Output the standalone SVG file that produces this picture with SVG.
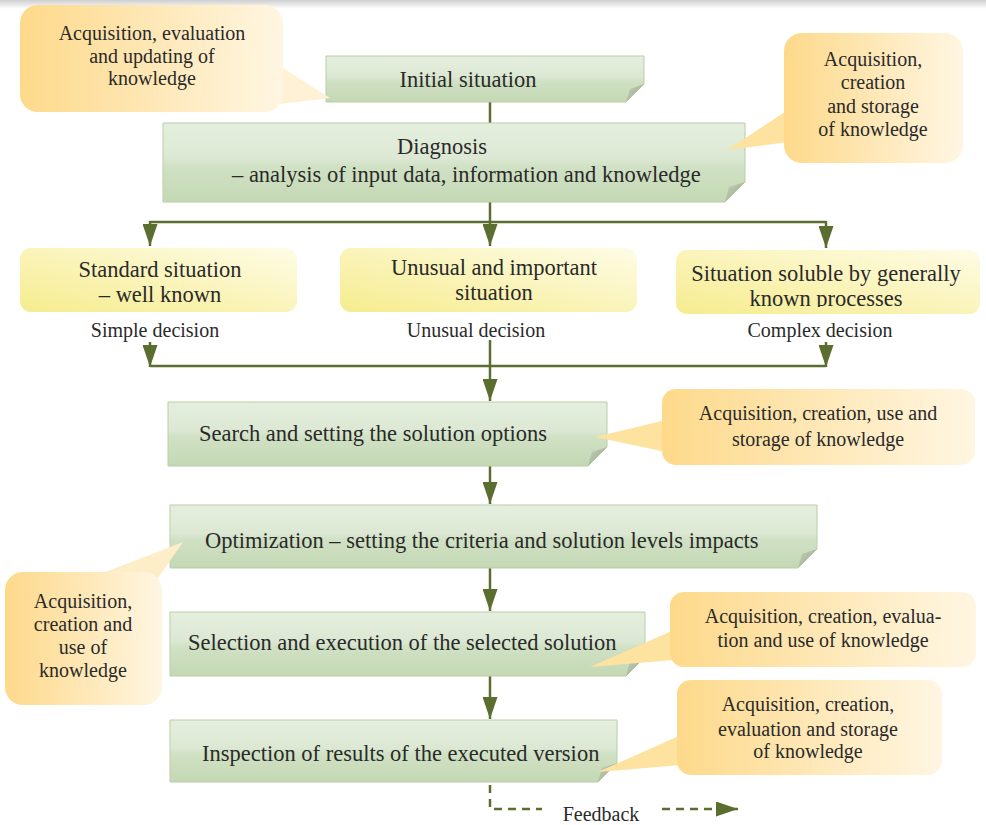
<svg xmlns="http://www.w3.org/2000/svg" width="986" height="825" viewBox="0 0 986 825">
<style>
.t{font-family:"Liberation Serif","Times New Roman",serif;fill:#2a2a2a;text-anchor:middle}
.b{font-size:22.5px}
.c{font-size:20px}
.s{text-anchor:start}
.box{fill:url(#gGreen);stroke:#b9cfa7;stroke-width:1}
.fold{fill:url(#gFold)}
.sit{fill:url(#gYellow)}
.call{fill:url(#gOrange)}
.ln{stroke:#5b6e2f;stroke-width:2.5;fill:none}
.dash{stroke:#5b6e2f;stroke-width:2.5;fill:none;stroke-dasharray:8 6}
</style>
<defs>
<linearGradient id="gTop" x1="0" y1="0" x2="0" y2="1"><stop offset="0" stop-color="#cfcfcf"/><stop offset="1" stop-color="#ffffff"/></linearGradient>
<linearGradient id="gGreen" x1="0" y1="0" x2="0" y2="1"><stop offset="0" stop-color="#e6efdf"/><stop offset="0.45" stop-color="#dce8d3"/><stop offset="0.55" stop-color="#d0e1c4"/><stop offset="1" stop-color="#c4d8b4"/></linearGradient>
<linearGradient id="gFold" x1="0" y1="0" x2="1" y2="1"><stop offset="0" stop-color="#c6d0bc"/><stop offset="1" stop-color="#96a685"/></linearGradient>
<linearGradient id="gYellow" x1="0" y1="1" x2="1" y2="0"><stop offset="0" stop-color="#f6ec8e"/><stop offset="1" stop-color="#fefce6"/></linearGradient>
<linearGradient id="gOrange" x1="0" y1="0" x2="1" y2="0"><stop offset="0" stop-color="#fdd98a"/><stop offset="1" stop-color="#fff6e2"/></linearGradient>
<marker id="ah" markerUnits="userSpaceOnUse" markerWidth="22" markerHeight="15" refX="22" refY="7.5" orient="auto"><path d="M0,0 L22,7.5 L0,15 z" fill="#5b6e2f"/></marker>
<clipPath id="clipSol"><rect x="676" y="250" width="304" height="57"/></clipPath>
</defs>
<rect x="0" y="0" width="986" height="825" fill="#ffffff"/>
<rect x="0" y="0" width="986" height="9" fill="url(#gTop)"/>

<g id="connectors">
<line class="ln" x1="490" y1="102" x2="490" y2="123"/>
<line class="ln" x1="490" y1="202" x2="490" y2="246" marker-end="url(#ah)"/>
<line class="ln" x1="150" y1="222" x2="826" y2="222"/>
<line class="ln" x1="150" y1="221" x2="150" y2="246" marker-end="url(#ah)"/>
<line class="ln" x1="826" y1="221" x2="826" y2="248" marker-end="url(#ah)"/>
<line class="ln" x1="150" y1="342" x2="150" y2="367" marker-end="url(#ah)"/>
<line class="ln" x1="826" y1="342" x2="826" y2="367" marker-end="url(#ah)"/>
<line class="ln" x1="150" y1="366" x2="826" y2="366"/>
<line class="ln" x1="490" y1="340" x2="490" y2="401" marker-end="url(#ah)"/>
<line class="ln" x1="490" y1="466" x2="490" y2="504" marker-end="url(#ah)"/>
<line class="ln" x1="490" y1="568" x2="490" y2="611" marker-end="url(#ah)"/>
<line class="ln" x1="490" y1="676" x2="490" y2="719" marker-end="url(#ah)"/>
<path class="dash" d="M490,785 V809 H542"/>
<path class="dash" d="M662,809 H738" marker-end="url(#ah)"/>
</g>

<g id="n-initial">
<path class="box" d="M326,56 H644 V84 L626,102 H326 Z"/>
<path class="fold" d="M644,84 L626,102 L630,89 Z"/>
<text class="t b" x="468" y="87">Initial situation</text>
</g>

<g id="n-diagnosis">
<path class="box" d="M163,123 H745 V182 L725,202 H163 Z"/>
<path class="fold" d="M745,182 L725,202 L729,187 Z"/>
<text class="t b s" x="397" y="154">Diagnosis</text>
<text class="t b s" x="232" y="182">– analysis of input data, information and knowledge</text>
</g>

<g id="n-standard">
<rect class="sit" x="20" y="248" width="277" height="64" rx="11"/>
<text class="t b" x="160" y="277">Standard situation</text>
<text class="t b" x="160" y="302">– well known</text>
</g>

<g id="n-unusual">
<rect class="sit" x="340" y="248" width="297" height="64" rx="11"/>
<text class="t b" x="494" y="275">Unusual and important</text>
<text class="t b" x="494" y="300">situation</text>
</g>

<g id="n-soluble">
<rect class="sit" x="676" y="250" width="304" height="64" rx="11"/>
<g clip-path="url(#clipSol)">
<text class="t b" x="826" y="281">Situation soluble by generally</text>
<text class="t b" x="826" y="306">known processes</text>
</g>
</g>

<g id="labels">
<text class="t c" x="155" y="337">Simple decision</text>
<text class="t c" x="476" y="337">Unusual decision</text>
<text class="t c" x="820" y="337">Complex decision</text>
</g>

<g id="n-search">
<path class="box" d="M168,402 H607 V447 L588,466 H168 Z"/>
<path class="fold" d="M607,447 L588,466 L592,452 Z"/>
<text class="t b s" x="199" y="441">Search and setting the solution options</text>
</g>

<g id="n-optimization">
<path class="box" d="M170,505 H817 V549 L798,568 H170 Z"/>
<path class="fold" d="M817,549 L798,568 L802,554 Z"/>
<text class="t b s" x="205" y="548">Optimization – setting the criteria and solution levels impacts</text>
</g>

<g id="n-selection">
<path class="box" d="M170,612 H645 V657 L626,676 H170 Z"/>
<path class="fold" d="M645,657 L626,676 L630,662 Z"/>
<text class="t b s" x="188" y="650">Selection and execution of the selected solution</text>
</g>

<g id="n-inspection">
<path class="box" d="M170,720 H617 V763 L598,782 H170 Z"/>
<path class="fold" d="M617,763 L598,782 L602,768 Z"/>
<text class="t b s" x="202" y="761">Inspection of results of the executed version</text>
</g>

<g id="callout-1">
<path d="M280,66 L330,98 L280,104 Z" fill="#fef1d6"/>
<rect class="call" x="20" y="5" width="263" height="107" rx="18"/>
<text class="t c" x="152" y="40">Acquisition, evaluation</text>
<text class="t c" x="152" y="63">and updating of</text>
<text class="t c" x="152" y="85">knowledge</text>
</g>

<g id="callout-2">
<path d="M788,110 L727,150 L788,142 Z" fill="#fde2a0"/>
<rect class="call" x="784" y="33" width="179" height="130" rx="18"/>
<text class="t c" x="873" y="66">Acquisition,</text>
<text class="t c" x="873" y="89">creation</text>
<text class="t c" x="873" y="113">and storage</text>
<text class="t c" x="873" y="136">of knowledge</text>
</g>

<g id="callout-3">
<path d="M666,420 L595,437 L666,452 Z" fill="#fde2a0"/>
<rect class="call" x="662" y="389" width="313" height="76" rx="14"/>
<text class="t c" x="818" y="420">Acquisition, creation, use and</text>
<text class="t c" x="818" y="446">storage of knowledge</text>
</g>

<g id="callout-4">
<path d="M95,576 L183,542 L158,578 Z" fill="#fdeec8"/>
<rect class="call" x="5" y="572" width="157" height="133" rx="18"/>
<text class="t c" x="83" y="608">Acquisition,</text>
<text class="t c" x="83" y="631">creation and</text>
<text class="t c" x="83" y="654">use of</text>
<text class="t c" x="83" y="677">knowledge</text>
</g>

<g id="callout-5">
<path d="M674,630 L590,667 L674,660 Z" fill="#fde2a0"/>
<rect class="call" x="670" y="592" width="306" height="75" rx="14"/>
<text class="t c" x="823" y="623">Acquisition, creation, evalua-</text>
<text class="t c" x="823" y="647">tion and use of knowledge</text>
</g>

<g id="callout-6">
<path d="M681,735 L598,772 L681,765 Z" fill="#fde2a0"/>
<rect class="call" x="677" y="680" width="265" height="95" rx="14"/>
<text class="t c" x="808" y="711">Acquisition, creation,</text>
<text class="t c" x="808" y="736">evaluation and storage</text>
<text class="t c" x="808" y="758">of knowledge</text>
</g>

<g id="feedback">
<text class="t c" x="601" y="821">Feedback</text>
</g>
</svg>
